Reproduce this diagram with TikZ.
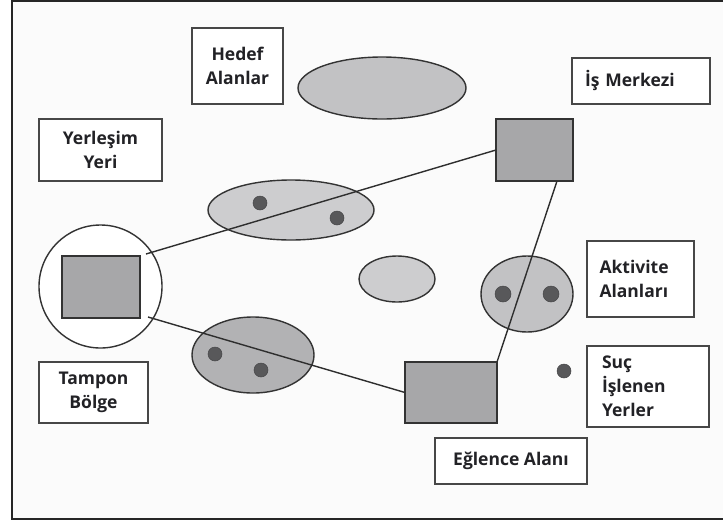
\documentclass[tikz,border=0pt]{standalone}
\usepackage{fontspec}
\setmainfont{Open Sans}
\usetikzlibrary{shapes.geometric}
\definecolor{sqfill}{HTML}{A7A7A9}
\definecolor{elfill}{HTML}{C2C2C4}
\definecolor{elfillb}{HTML}{CDCDCF}
\definecolor{dotfill}{HTML}{58585A}
\definecolor{ink}{HTML}{333333}
\definecolor{txt}{HTML}{222226}
\definecolor{bg}{HTML}{FBFBFB}
\tikzset{
  label box/.style={draw=ink!90, line width=1.8pt, fill=white, inner sep=0pt, outer sep=0pt,
    font=\bfseries\fontsize{17.5}{24}\selectfont, text=txt, align=center},
  left box/.style={label box, align=left},
  zone/.style={ellipse, draw=ink, line width=1.4pt, inner sep=0pt, outer sep=0pt},
  gsquare/.style={rectangle, draw=ink, line width=1.6pt, fill=sqfill, inner sep=0pt, outer sep=0pt},
  spot/.style={circle, fill=dotfill, draw=dotfill!80!black, line width=0.5pt, inner sep=0pt, minimum size=14pt},
  link/.style={draw=ink!90!black, line width=1.4pt}
}
\begin{document}
\begin{tikzpicture}[x=1pt,y=-1pt]
\useasboundingbox (0,0) rectangle (723,523);
\fill[white] (0,0) rectangle (723,523);
\fill[bg] (12,1) rectangle (723,519);
\draw[line width=2.4pt, draw=black!85] (723,1) -- (12,1) -- (12,519) -- (723,519);

% labels
\node[label box, minimum width=91pt, minimum height=76pt] (hedef) at (237.5,66) {Hedef\\Alanlar};
\node[left box, minimum width=138pt, minimum height=46pt, text width=112pt] (is) at (641,81) {İş Merkezi};
\node[label box, minimum width=123pt, minimum height=62pt] (yer) at (100.5,150) {Yerleşim\\Yeri};
\node[label box, minimum width=109pt, minimum height=61pt] (tampon) at (93.5,392.5) {Tampon\\Bölge};
\node[left box, minimum width=107pt, minimum height=76pt, text width=82pt] (akt) at (640.5,279) {Aktivite\\Alanları};
\node[left box, minimum width=122pt, minimum height=81pt, text width=92pt] (suc) at (648,386.5) {Suç\\İşlenen\\Yerler};
\node[label box, minimum width=152pt, minimum height=46pt] (eg) at (511,461) {Eğlence Alanı};

% zones
\node[zone, fill=elfill, minimum width=168pt, minimum height=62pt] (hz) at (382,88) {};
\node[zone, fill=elfillb, minimum width=166pt, minimum height=60pt] (uz) at (291,210) {};
\node[zone, fill=white, minimum width=123pt, minimum height=123pt] (bz) at (100.5,286.5) {};
\node[zone, fill=elfill!92!black, minimum width=122pt, minimum height=76pt] (lz) at (253,355) {};
\node[zone, fill=elfillb, minimum width=76pt, minimum height=46pt] (mz) at (397,279) {};
\node[zone, fill=elfill, minimum width=92pt, minimum height=76pt] (az) at (527,294) {};

% squares
\node[gsquare, minimum width=78pt, minimum height=62pt] (home) at (101,287) {};
\node[gsquare, minimum width=77pt, minimum height=62pt] (work) at (534.5,150) {};
\node[gsquare, minimum width=92pt, minimum height=61pt] (fun) at (451,392.5) {};

% connector ends
\coordinate (h1) at (146,254);
\coordinate (h2) at (148,317);
\coordinate (w1) at (557,181);

\draw[link] (h1) -- (work.west);
\draw[link] (h2) -- (fun.west);
\draw[link] (w1) -- (fun.north east);

% dots
\node[spot] (d1) at (260,203) {};
\node[spot] (d2) at (337,218) {};
\node[spot] (d3) at (215,354) {};
\node[spot] (d4) at (261,370) {};
\node[spot, minimum size=16pt] (d5) at (503,294) {};
\node[spot, minimum size=16pt] (d6) at (551,294) {};
\node[spot] (d7) at (564,371) {};
\end{tikzpicture}
\end{document}
